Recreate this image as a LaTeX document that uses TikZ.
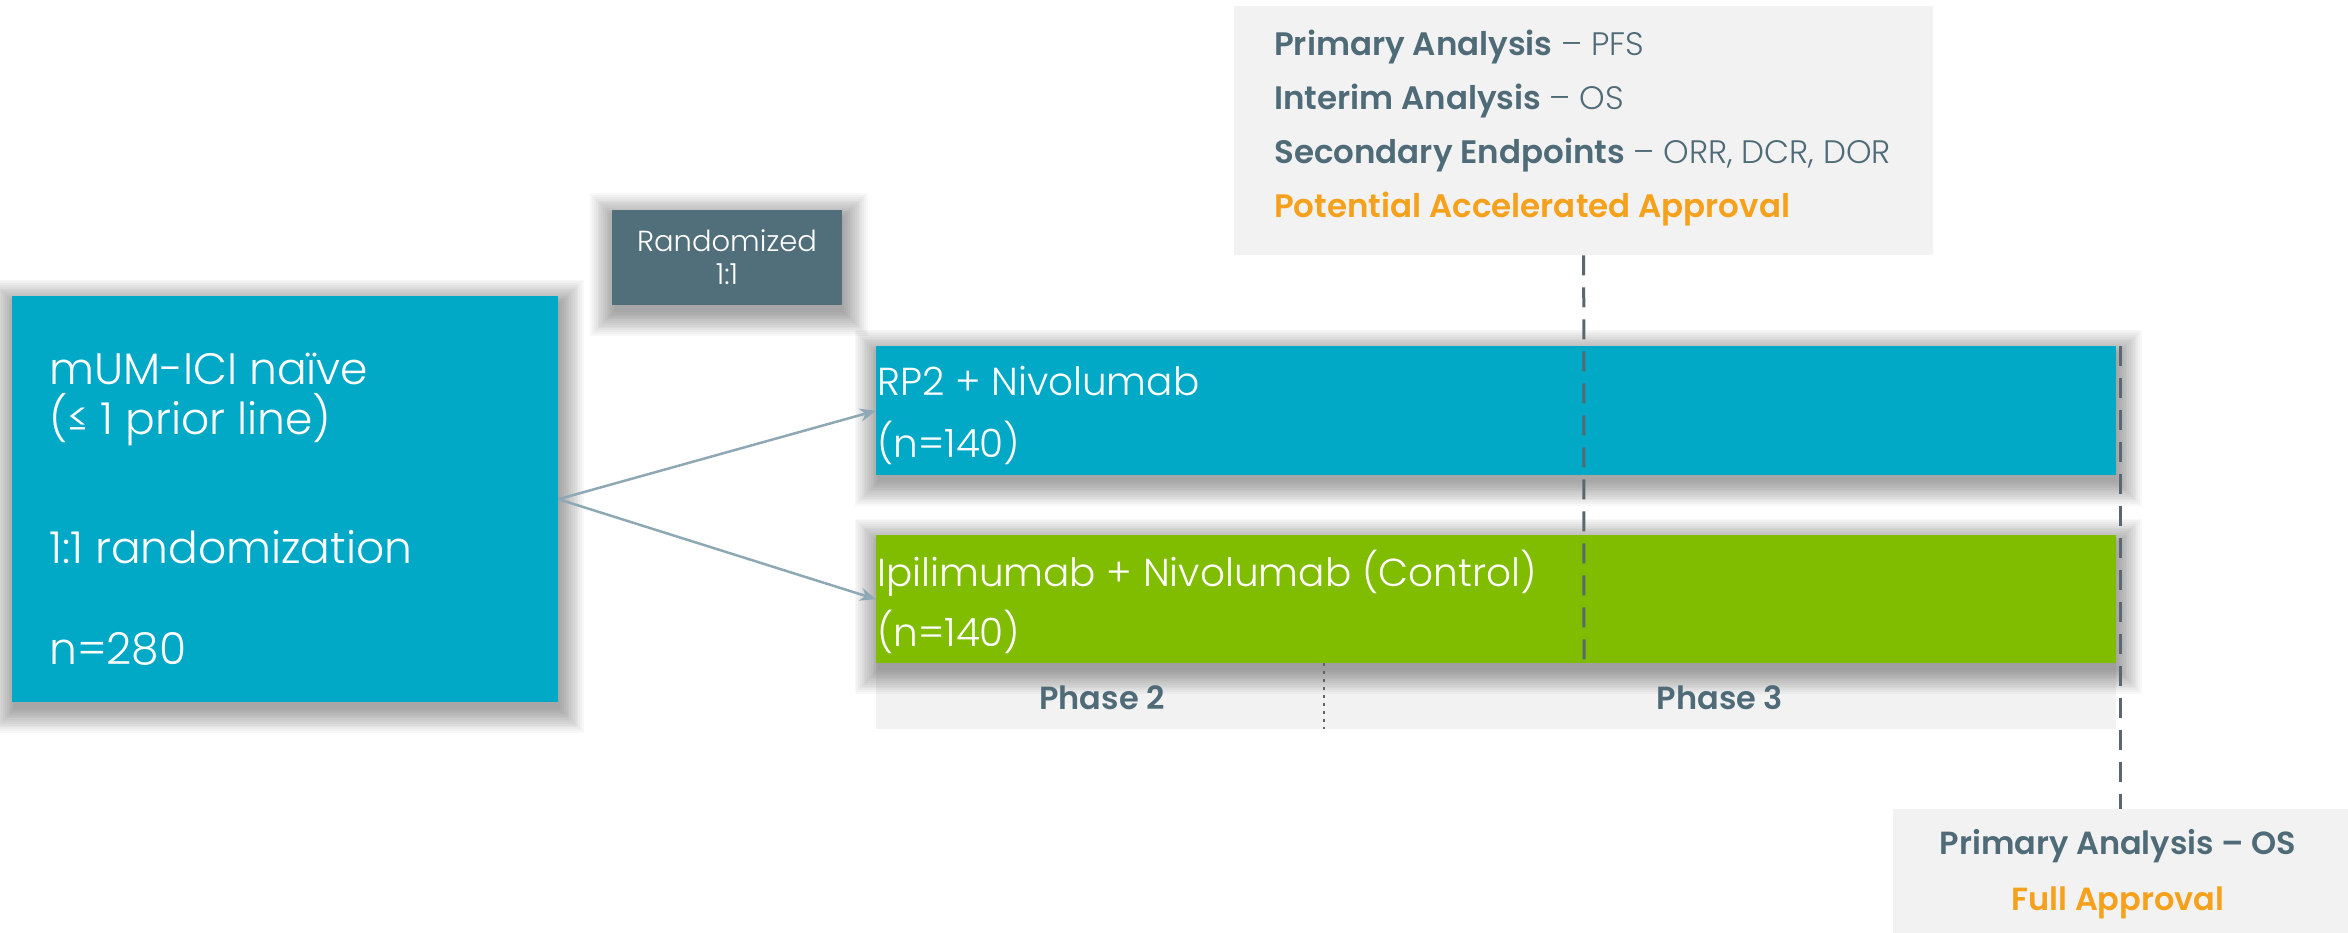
\documentclass[tikz,border=0pt]{standalone}
\usepackage{fontspec}
\setmainfont{Poppins}
\newfontfamily\plight{Poppins Light}
\newfontfamily\psemi{Poppins SemiBold}
\usetikzlibrary{arrows.meta}
\pgfdeclarelayer{background}
\pgfsetlayers{background,main}
\definecolor{cblue}{HTML}{01A9C6}
\definecolor{cgreen}{HTML}{80BC00}
\definecolor{cslate}{HTML}{516E7B}
\definecolor{ctext}{HTML}{4F6B78}
\definecolor{corange}{HTML}{F5A11C}
\definecolor{cgray}{HTML}{F2F2F2}
\definecolor{carrow}{HTML}{8FA8B5}
\definecolor{cdash}{HTML}{5A6770}
\newcommand\softshadow[1]{%
  \begin{pgfonlayer}{background}
    \foreach \k in {0,...,13}{%
      \fill[black,opacity=0.026]
        ([xshift=-\k*1.8pt+2pt,yshift=\k*1.8pt-7pt]#1.north west) rectangle
        ([xshift=\k*1.8pt+2pt,yshift=-\k*1.8pt-7pt]#1.south east);
    }
  \end{pgfonlayer}}
\begin{document}
\begin{tikzpicture}[x=1pt,y=-1pt,
  boxblue/.style={fill=cblue,draw=none,inner sep=0pt,anchor=north west},
  boxgreen/.style={fill=cgreen,draw=none,inner sep=0pt,anchor=north west},
  boxgray/.style={fill=cgray,draw=none,inner sep=0pt,anchor=north west},
  boxslate/.style={fill=cslate,draw=none,inner sep=0pt},
  bigtxt/.style={text=white,inner sep=0pt,anchor=base west,font=\plight\fontsize{44}{50}\selectfont},
  bartxt/.style={text=white,inner sep=0pt,anchor=base west,font=\plight\fontsize{39}{44}\selectfont},
  lbl/.style={text=ctext,inner sep=0pt,anchor=base west,font=\fontsize{32.5}{38}\selectfont},
  lblc/.style={text=ctext,inner sep=0pt,anchor=base,font=\psemi\fontsize{32}{36}\selectfont},
  arr/.style={draw=carrow,line width=2.5pt,-{Stealth[length=16pt,width=13pt]}},
  vdash/.style={draw=cdash,line width=3pt,dash pattern=on 20pt off 12pt},
  vdot/.style={draw=cdash,line width=2pt,dash pattern=on 3pt off 5pt}
]
\begin{pgfonlayer}{background}
  \fill[white] (0,0) rectangle (2348,933);
  % phase band (under the shadows of the arms)
  \node[boxgray,minimum width=1240pt,minimum height=66pt] (P) at (876,663) {};
\end{pgfonlayer}
\useasboundingbox (0,0) rectangle (2348,933);

% top info box
\node[boxgray,minimum width=699pt,minimum height=249pt] (T) at (1234,6) {};
\node[lbl] (t1) at (1274,56) {{\psemi Primary Analysis} {\plight – PFS}};
\node[lbl] (t2) at (1274,110) {{\psemi Interim Analysis} {\plight – OS}};
\node[lbl] (t3) at (1274,164) {{\psemi Secondary Endpoints} {\plight – ORR, DCR, DOR}};
\node[lbl,text=corange] (t4) at (1274,218) {\psemi Potential Accelerated Approval};

% phase labels
\node[lblc] (p2) at (1102,709) {Phase 2};
\node[lblc] (p3) at (1720,709) {Phase 3};

% randomized box
\node[boxslate,minimum width=230pt,minimum height=95pt,text=white,align=center,
  font=\plight\fontsize{29}{33}\selectfont] (R) at (727,257.5) {Randomized\\1:1};
\softshadow{R}

% left box
\node[boxblue,minimum width=546pt,minimum height=406pt] (L) at (12,296) {};
\softshadow{L}
\node[bigtxt] (l1) at (49,384) {mUM-ICI naïve};
\node[bigtxt] (l2) at (49,434) {(≤ 1 prior line)};
\node[bigtxt] (l3) at (49,563) {1:1 randomization};
\node[bigtxt] (l4) at (49,664) {n=280};

% arms
\node[boxblue,minimum width=1240pt,minimum height=129pt] (A) at (876,346) {};
\softshadow{A}
\node[bartxt] (a1) at (877,395) {RP2 + Nivolumab};
\node[bartxt] (a2) at (877,457) {(n=140)};
\node[boxgreen,minimum width=1240pt,minimum height=128pt] (G) at (876,535) {};
\softshadow{G}
\node[bartxt] (g1) at (877,586) {Ipilimumab + Nivolumab (Control)};
\node[bartxt] (g2) at (877,646) {(n=140)};

% bottom box
\node[boxgray,minimum width=455pt,minimum height=124pt] (B) at (1893,809) {};
\node[lblc] (b1) at (2118,854) {Primary Analysis – OS};
\node[lblc,text=corange] (b2) at (2118,910) {Full Approval};

% connectors
\draw[arr] (L.east) -- (A.west);
\draw[arr] (L.east) -- (G.west);

\coordinate (d1) at (1584,663);
\draw[vdash] (T.south) -- (d1);
\coordinate (d2) at (B.north |- A.north);
\draw[vdash] (d2) -- (B.north);
\coordinate (p1) at (1324,663);
\coordinate (p1b) at (1324,729);
\draw[vdot] (p1) -- (p1b);
\end{tikzpicture}
\end{document}
